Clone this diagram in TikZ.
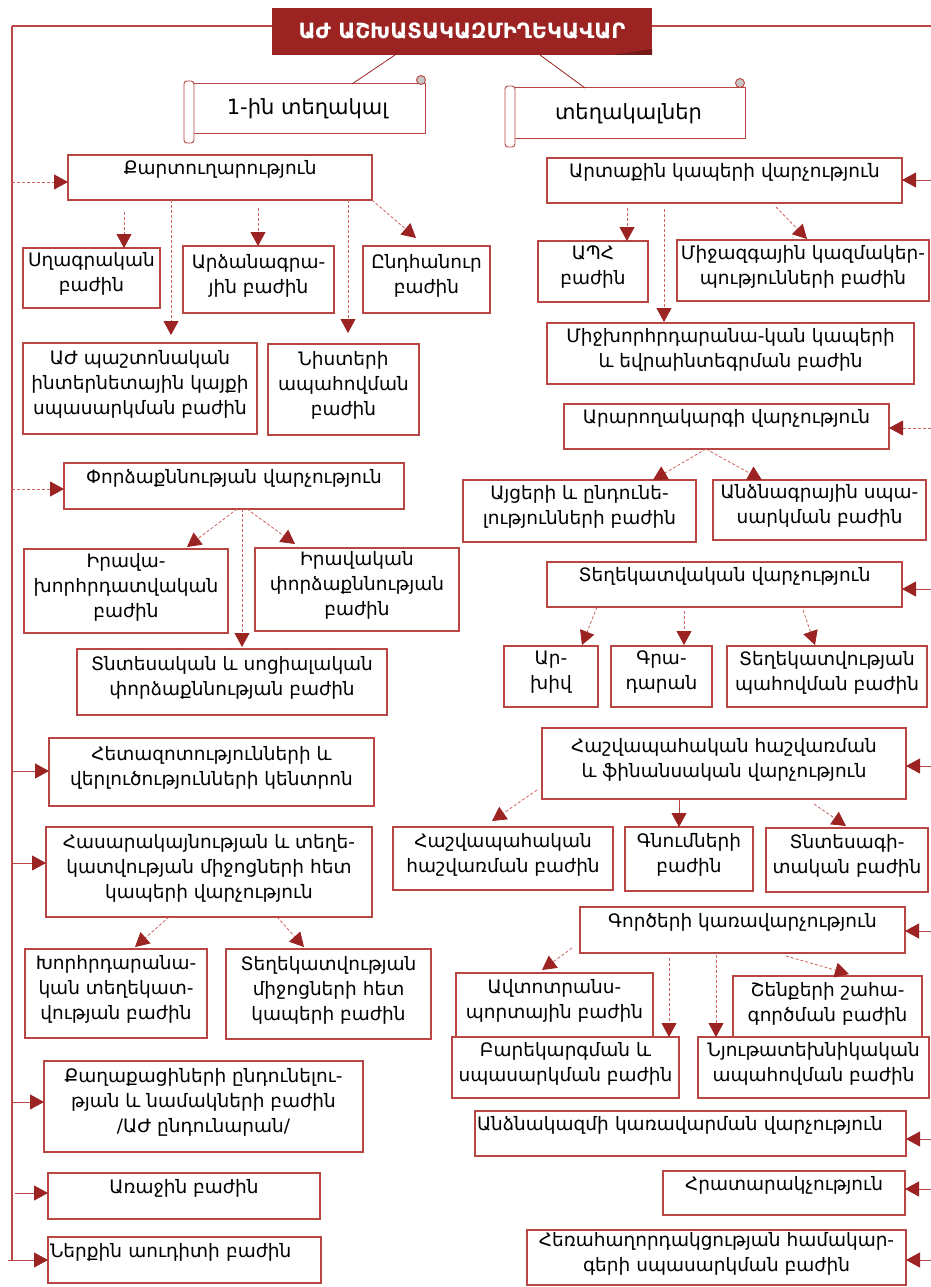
\documentclass[tikz,border=0pt]{standalone}
\usepackage{fontspec}
\setmainfont{DejaVu Sans}
\usetikzlibrary{arrows.meta}
\definecolor{dred}{RGB}{155,36,35}
\definecolor{bred}{RGB}{185,70,66}
\definecolor{lred}{RGB}{205,100,95}
\tikzset{
  box/.style={draw=bred, line width=1.1pt, fill=white, align=center, inner sep=1pt, outer sep=0pt, text=black, font=\fontsize{18.5}{25}\selectfont},
  one/.style={text depth=20pt},
  multi/.style={text depth=12pt},
  scroll/.style={draw=bred, line width=1pt, fill=white, outer sep=0pt, font=\fontsize{21}{24}\selectfont},
  darr/.style={draw=lred, line width=0.8pt, dash pattern=on 3pt off 2pt, -{Triangle[length=14pt,width=15pt,color=dred]}},
  sarr/.style={draw=bred, line width=0.9pt, -{Triangle[length=14pt,width=15pt,color=dred]}},
  spine/.style={draw=bred, line width=1.1pt},
  tline/.style={draw=dred, line width=0.8pt}
}
\newcommand\orgbox[7][]{%
  \node[box,#1,minimum width={(#5-#3)*1pt},minimum height={(#6-#4)*1pt}] (#2) at ({(#3+#5)/2},{(#4+#6)/2}) {#7};}
\begin{document}
\begin{tikzpicture}[x=1pt,y=-1pt]
\useasboundingbox (0,0) rectangle (931,1287);
\fill[white] (0,0) rectangle (931,1287);
% title
\node[fill=dred, minimum width=380pt, minimum height=47pt, inner sep=0pt, outer sep=0pt, text=white, font=\bfseries\fontsize{21}{24}\selectfont] (title) at (462,31.5) {ԱԺ ԱՇԽԱՏԱԿԱԶՄԻՂԵԿԱՎԱՐ};
\fill[dred!75!black] (612,55) -- (652,49) -- (652,55) -- cycle;
\coordinate (Ltop) at (12,26);
\coordinate (Lbot) at (12,1260);
\coordinate (Rtop) at (931,26);
\draw[spine] (Ltop) -- (title.west |- Ltop);
\draw[spine] (title.east |- Rtop) -- (Rtop);
\draw[spine] (Ltop) -- (Lbot);
% scrolls
\node[scroll, minimum width=235pt, minimum height=50pt] (s1) at (307.5,109) {1-ին տեղակալ};
\node[scroll, minimum width=233pt, minimum height=51pt] (s2) at (628.5,113.5) {տեղակալներ};
\draw[bred, line width=0.9pt, fill=white, rounded corners=3pt] (184,81) rectangle (194,143);
\draw[bred, line width=0.9pt, fill=gray!45] (421,80) circle (4.5);
\draw[bred, line width=0.9pt, fill=white, rounded corners=3pt] (505,86) rectangle (515,147);
\draw[bred, line width=0.9pt, fill=gray!45] (740,83) circle (4.5);
\draw[tline] (title.south -| 395,0) -- (s1.north -| 352,0);
\draw[tline] (title.south -| 540,0) -- (s2.north -| 585,0);
% left column
\orgbox[one]{kart}{68}{155}{372}{200}{Քարտուղարություն}
\orgbox[multi]{sgh}{23}{248}{160}{308}{Սղագրական\\բաժին}
\orgbox[multi]{ardz}{183}{246}{334}{313}{Արձանագրա-\\յին բաժին}
\orgbox[multi]{ndh}{363}{246}{490}{313}{Ընդհանուր\\բաժին}
\orgbox[multi]{ajk}{23}{343}{257}{434}{ԱԺ պաշտոնական\\ինտերնետային կայքի\\սպասարկման բաժին}
\orgbox[multi]{nist}{268}{344}{419}{435}{Նիստերի\\ապահովման\\բաժին}
\orgbox[one]{pordz}{64}{463}{404}{509}{Փորձաքննության վարչություն}
\orgbox[multi]{irkh}{24}{549}{228}{633}{Իրավա-\\խորհրդատվական\\բաժին}
\orgbox[multi]{irp}{255}{548}{459}{631}{Իրավական\\փորձաքննության\\բաժին}
\orgbox[multi]{tnt}{77}{649}{387}{715}{Տնտեսական և սոցիալական\\փորձաքննության բաժին}
\orgbox[multi]{het}{49}{738}{374}{806}{Հետազոտությունների և\\վերլուծությունների կենտրոն}
\orgbox[multi]{has}{46}{827}{372}{917}{Հասարակայնության և տեղե-\\կատվության միջոցների հետ\\կապերի վարչություն}
\orgbox[multi]{khtv}{25}{949}{207}{1038}{Խորհրդարանա-\\կան տեղեկատ-\\վության բաժին}
\orgbox[multi]{tmk}{226}{949}{431}{1039}{Տեղեկատվության\\միջոցների հետ\\կապերի բաժին}
\orgbox[multi]{qagh}{44}{1061}{363}{1152}{Քաղաքացիների ընդունելու-\\թյան և նամակների բաժին\\/ԱԺ ընդունարան/}
\orgbox[one]{araj}{48}{1173}{320}{1219}{Առաջին բաժին}
\orgbox[one,text width=269pt,align=left]{nerq}{48}{1237}{321}{1283}{Ներքին աուդիտի բաժին}
% right column
\orgbox[one]{artq}{547}{158}{902}{203}{Արտաքին կապերի վարչություն}
\orgbox[multi]{aph}{538}{241}{648}{302}{ԱՊՀ\\բաժին}
\orgbox[multi]{mijaz}{677}{240}{929}{301}{Միջազգային կազմակեր-\\պությունների բաժին}
\orgbox[multi]{mijkh}{547}{323}{914}{384}{Միջխորհրդարանա-կան կապերի\\և եվրաինտեգրման բաժին}
\orgbox[one]{arar}{564}{404}{889}{449}{Արարողակարգի վարչություն}
\orgbox[multi]{ayc}{463}{480}{696}{542}{Այցերի և ընդունե-\\լությունների բաժին}
\orgbox[multi]{andz}{713}{480}{926}{540}{Անձնագրային սպա-\\սարկման բաժին}
\orgbox[one]{tegh}{547}{562}{902}{607}{Տեղեկատվական վարչություն}
\orgbox[multi]{arkh}{504}{646}{598}{707}{Ար-\\խիվ}
\orgbox[multi]{grad}{611}{646}{712}{707}{Գրա-\\դարան}
\orgbox[multi]{tpah}{727}{646}{927}{707}{Տեղեկատվության\\պահովման բաժին}
\orgbox[multi]{hash}{542}{728}{906}{799}{Հաշվապահական հաշվառման\\և ֆինանսական վարչություն}
\orgbox[multi]{hhb}{393}{827}{613}{890}{Հաշվապահական\\հաշվառման բաժին}
\orgbox[multi]{gnum}{625}{827}{753}{891}{Գնումների\\բաժին}
\orgbox[multi]{tntg}{766}{828}{928}{892}{Տնտեսագի-\\տական բաժին}
\orgbox[one]{gorc}{580}{907}{905}{953}{Գործերի կառավարչություն}
\orgbox[multi]{avto}{456}{973}{653}{1037}{Ավտոտրանս-\\պորտային բաժին}
\orgbox[multi]{shen}{733}{976}{922}{1040}{Շենքերի շահա-\\գործման բաժին}
\orgbox[multi]{barek}{452}{1037}{679}{1098}{Բարեկարգման և\\սպասարկման բաժին}
\orgbox[multi]{nyut}{698}{1037}{929}{1098}{Նյութատեխնիկական\\ապահովման բաժին}
\orgbox[one,text width=427pt,align=left]{andzk}{475}{1111}{906}{1156}{Անձնակազմի կառավարման վարչություն}
\orgbox[one]{hrat}{663}{1171}{905}{1215}{Հրատարակչություն}
\orgbox[multi]{herah}{527}{1230}{906}{1285}{Հեռահաղորդակցության համակար-\\գերի սպասարկման բաժին}
% left spine arrows
\draw[darr] (Ltop |- 0,182) -- (kart.west |- 0,182);
\draw[darr] (Ltop |- 0,489) -- (pordz.west |- 0,489);
\draw[sarr] (Ltop |- 0,771) -- (het.west |- 0,771);
\draw[sarr] (Ltop |- 0,863) -- (has.west |- 0,863);
\draw[sarr] (Ltop |- 0,1102) -- (qagh.west |- 0,1102);
\draw[sarr] ([xshift=3pt]Ltop |- 0,1193) -- (araj.west |- 0,1193);
\draw[sarr] ([xshift=-4pt]Lbot) -- (nerq.west |- Lbot);
% right arrows
\draw[sarr] (Rtop |- 0,180) -- (artq.east |- 0,180);
\draw[darr] (Rtop |- 0,428) -- (arar.east |- 0,428);
\draw[sarr] (Rtop |- 0,589) -- (tegh.east |- 0,589);
\draw[sarr] (Rtop |- 0,766) -- (hash.east |- 0,766);
\draw[sarr] (Rtop |- 0,931) -- (gorc.east |- 0,931);
\draw[sarr] (Rtop |- 0,1139) -- (andzk.east |- 0,1139);
\draw[sarr] (Rtop |- 0,1189) -- (hrat.east |- 0,1189);
\draw[sarr] (Rtop |- 0,1260) -- (herah.east |- 0,1260);
% internal arrows
\draw[darr] ([yshift=-12pt]kart.south -| 124,0) -- (sgh.north -| 124,0);
\draw[darr] ([yshift=-8pt]kart.south -| 258,0) -- (ardz.north -| 258,0);
\draw[darr] (kart.south east) -- ([yshift=8pt]ndh.north -| 416,0);
\draw[darr] (kart.south -| 171,0) -- ([yshift=8pt]ajk.north -| 171,0);
\draw[darr] (kart.south -| 348,0) -- ([yshift=11pt]nist.north -| 348,0);
\draw[darr] (pordz.south -| 237,0) -- ([yshift=2pt]irkh.north -| 187,0);
\draw[darr] (pordz.south -| 247,0) -- ([yshift=4pt]irp.north -| 295,0);
\draw[darr] (pordz.south -| 242,0) -- ([yshift=2pt]tnt.north -| 242,0);
\draw[darr] (has.south -| 169,0) -- ([yshift=2pt]khtv.north -| 135,0);
\draw[darr] (has.south -| 277,0) -- ([yshift=2pt]tmk.north -| 304,0);
\draw[darr] ([yshift=-5pt]artq.south -| 627,0) -- (aph.north -| 627,0);
\draw[darr] ([yshift=-4pt]artq.south -| 776,0) -- ([yshift=1pt]mijaz.north -| 807,0);
\draw[darr] ([yshift=-6pt]artq.south -| 664,0) -- ([yshift=1pt]mijkh.north -| 664,0);
\draw[darr] (arar.south -| 706,0) -- (ayc.north -| 653,0);
\draw[darr] (arar.south -| 706,0) -- (andz.north -| 762,0);
\draw[darr] (tegh.south -| 597,0) -- ([yshift=1pt]arkh.north -| 582,0);
\draw[darr] ([yshift=-4pt]tegh.south -| 684,0) -- ([yshift=1pt]grad.north -| 684,0);
\draw[darr] ([yshift=-3pt]tegh.south -| 803,0) -- ([yshift=1pt]tpah.north -| 815,0);
\draw[darr] ([yshift=9pt]hash.south -| 537,0) -- ([yshift=6pt]hhb.north -| 492,0);
\draw[sarr] (hash.south -| 679,0) -- (gnum.north -| 679,0);
\draw[darr] ([yshift=-5pt]hash.south -| 814,0) -- ([yshift=2pt]tntg.north -| 846,0);
\draw[darr] ([yshift=5pt]gorc.south -| 572,0) -- ([yshift=3pt]avto.north -| 542,0);
\draw[darr] ([yshift=-3pt]gorc.south -| 786,0) -- ([yshift=2pt]shen.north -| 849,0);
\draw[darr] ([yshift=-5pt]gorc.south -| 669,0) -- (barek.north -| 669,0);
\draw[darr] ([yshift=-2pt]gorc.south -| 716,0) -- (nyut.north -| 716,0);
\end{tikzpicture}
\end{document}
